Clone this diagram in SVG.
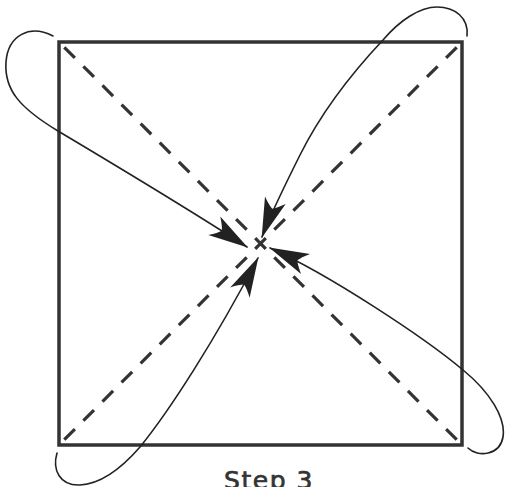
<svg xmlns="http://www.w3.org/2000/svg" width="506" height="487" viewBox="0 0 506 487">
<style>
.sq{fill:none;stroke:#333;stroke-width:3.5}
.dash{fill:none;stroke:#333;stroke-width:3.2;stroke-dasharray:15 12;stroke-linecap:butt}
.arc{fill:none;stroke:#222;stroke-width:1.6;stroke-linecap:round}
.lbl{font-family:"DejaVu Sans",sans-serif;font-size:25px;fill:#333;stroke:#333;stroke-width:0.7;letter-spacing:1.5px}
</style>
<defs>
<marker id="ah" markerUnits="userSpaceOnUse" viewBox="-45 -15 50 30" markerWidth="50" markerHeight="30" refX="0" refY="0" orient="auto">
<path d="M1,0 L-39,-11 Q-32,-4 -30,0 Q-32,4 -39,11 Z" fill="#222"/>
</marker>
</defs>
<g id="square">
<rect class="sq" x="59" y="42" width="403" height="403"/>
</g>
<g id="diagonals">
<line class="dash" x1="63" y1="46" x2="458" y2="441" stroke-dashoffset="25.2"/>
<line class="dash" x1="458" y1="46" x2="63" y2="441" stroke-dashoffset="25.2"/>
</g>
<g id="connectors">
<path class="arc" d="M53,36 C30,24 8,35 6,62 C4,90 20,108 58,131 C110,162 190,210 247,247" marker-end="url(#ah)"/>
<path class="arc" d="M467,36 C469,18 455,7 437,7 C420,7 400,20 383,40 C350,75 320,115 300,155 C285,185 270,215 262,237" marker-end="url(#ah)"/>
<path class="arc" d="M468,448 C478,458 500,455 503,437 C506,418 490,392 463,370 C425,338 330,275 270,248" marker-end="url(#ah)"/>
<path class="arc" d="M57,453 C52,470 60,486 80,485 C100,484 120,470 140,447 C170,410 215,340 258,258" marker-end="url(#ah)"/>
</g>
<g id="label">
<text class="lbl" x="269" y="489" text-anchor="middle">Step 3</text>
</g>
</svg>
